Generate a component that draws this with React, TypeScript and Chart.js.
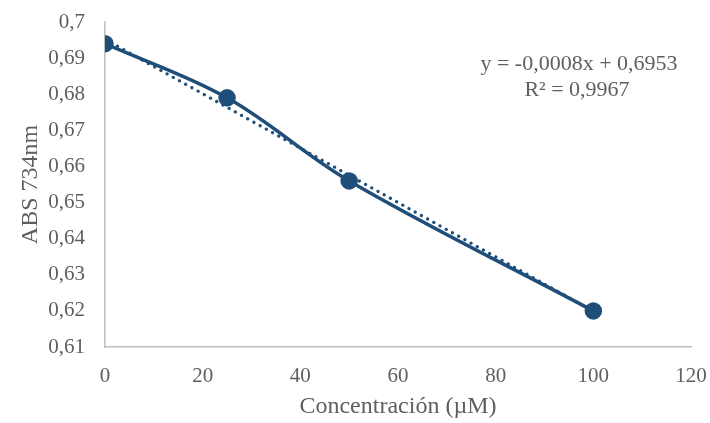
import React, { useEffect, useRef } from "react";
import { Chart, registerables } from "chart.js";

Chart.register(...registerables);

const concentrations = [0, 25, 50, 100];
const absorbances = [0.694, 0.679, 0.656, 0.62];
const trendX = [0, 100];
const trendY = [0.6952, 0.6199];
const xTicks = [0, 20, 40, 60, 80, 100, 120];
const yTicks = [0.61, 0.62, 0.63, 0.64, 0.65, 0.66, 0.67, 0.68, 0.69, 0.7];
const equationLines = ["y = -0,0008x + 0,6953", "R² = 0,9967"];

const FONT = "'Liberation Serif', 'DejaVu Serif', serif";
const BLUE = "#1F4E79";
const GRAY = "#5F5F5F";

const fmt = (v: number) => String(Math.round(v * 100) / 100).replace(".", ",");

export default function App() {
  const ref = useRef<HTMLCanvasElement>(null);
  useEffect(() => {
    document.body.style.margin = "0";
    const eqPlugin = {
      id: "eq",
      afterDraw(chart: any) {
        const ctx = chart.ctx;
        ctx.save();
        ctx.fillStyle = GRAY;
        ctx.font = `22px ${FONT}`;
        ctx.textAlign = "center";
        ctx.textBaseline = "middle";
        ctx.fillText(equationLines[0], 579, 64);
        ctx.fillText(equationLines[1], 577, 90);
        ctx.restore();
      },
    };
    const chart = new Chart(ref.current!, {
      type: "scatter",
      data: {
        datasets: [
          {
            data: concentrations.map((x, i) => ({ x, y: absorbances[i] })),
            showLine: true,
            borderColor: BLUE,
            backgroundColor: BLUE,
            borderWidth: 3.5,
            pointRadius: 7,
            pointHoverRadius: 7,
            tension: 0.35,
            order: 1,
          },
          {
            data: trendX.map((x, i) => ({ x, y: trendY[i] })),
            showLine: true,
            borderColor: BLUE,
            borderWidth: 3.2,
            borderDash: [0.1, 7],
            borderCapStyle: "round",
            pointRadius: 0,
            order: 2,
          } as any,
        ],
      },
      options: {
        responsive: false,
        animation: false,
        layout: { padding: { left: 0, right: 19, top: 22, bottom: 0 } },
        plugins: { legend: { display: false }, tooltip: { enabled: false } },
        scales: {
          x: {
            type: "linear",
            min: 0,
            max: 120,
            afterBuildTicks: (s: any) => {
              s.ticks = xTicks.map((v) => ({ value: v }));
            },
            afterFit: (s: any) => {
              s.height = 76;
              s.paddingLeft = 0;
              s.paddingRight = 0;
            },
            grid: { display: false, drawTicks: false },
            border: { color: "#BFBFBF", width: 1.5 },
            ticks: { color: GRAY, font: { family: FONT, size: 21 }, padding: 17 },
            title: {
              display: true,
              text: "Concentración (µM)",
              color: GRAY,
              font: { family: FONT, size: 24 },
              padding: { top: 2, bottom: 2 },
            },
          },
          y: {
            type: "linear",
            min: 0.61,
            max: 0.7,
            afterBuildTicks: (s: any) => {
              s.ticks = yTicks.map((v) => ({ value: v }));
            },
            afterFit: (s: any) => {
              s.width = 105;
              s.paddingTop = 0;
              s.paddingBottom = 0;
            },
            grid: { display: false, drawTicks: false },
            border: { color: "#BFBFBF", width: 1.5 },
            ticks: {
              color: GRAY,
              font: { family: FONT, size: 21 },
              padding: 20,
              callback: (v: any) => fmt(Number(v)),
            },
            title: {
              display: true,
              text: "ABS 734nm",
              color: GRAY,
              font: { family: FONT, size: 24 },
              padding: { top: 16, bottom: 16 },
            },
          },
        },
      },
      plugins: [eqPlugin],
    } as any);
    return () => chart.destroy();
  }, []);
  return <canvas ref={ref} width={710} height={423} style={{ display: "block" }} />;
}
